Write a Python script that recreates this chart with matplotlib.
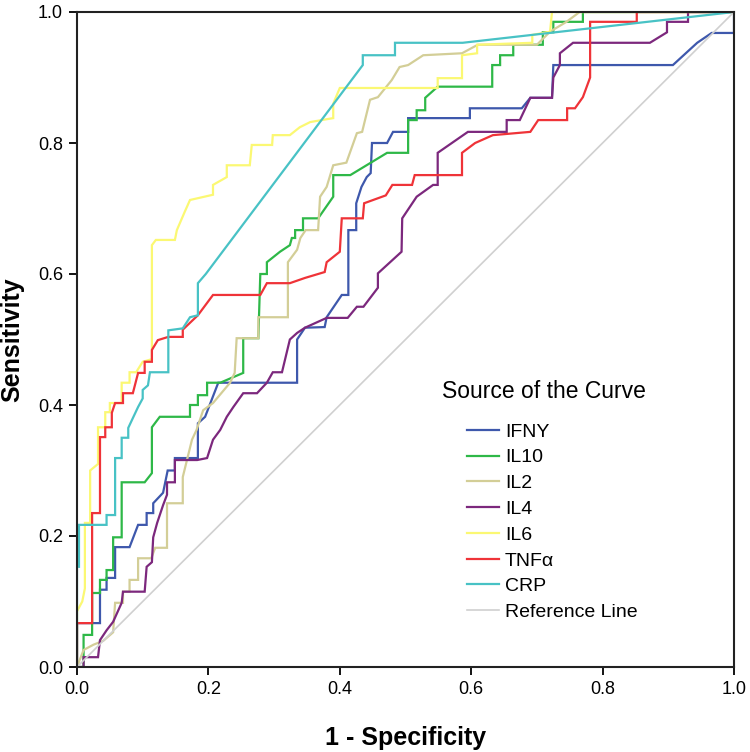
import matplotlib
matplotlib.use("Agg")
import matplotlib.pyplot as plt

plt.rcParams['font.family'] = ['Liberation Sans', 'DejaVu Sans']

# ROC curves: (1 - specificity, sensitivity) vertices
ifny_x = [0, 0, 0.035, 0.035, 0.045, 0.045, 0.058, 0.058, 0.08, 0.093, 0.106, 0.106, 0.116, 0.116,
          0.131, 0.138, 0.149, 0.149, 0.184, 0.184, 0.195, 0.215, 0.335, 0.335, 0.347, 0.377, 0.38,
          0.403, 0.413, 0.413, 0.425, 0.425, 0.433, 0.441, 0.447, 0.449, 0.472, 0.481, 0.504, 0.504,
          0.598, 0.598, 0.677, 0.69, 0.723, 0.725, 0.907, 0.944, 0.966, 1.0, 1.0]
ifny_y = [0, 0.067, 0.067, 0.118, 0.118, 0.136, 0.136, 0.183, 0.183, 0.217, 0.217, 0.235, 0.235, 0.25,
          0.266, 0.30, 0.30, 0.319, 0.319, 0.372, 0.382, 0.434, 0.434, 0.50, 0.518, 0.519, 0.534,
          0.568, 0.568, 0.667, 0.667, 0.708, 0.733, 0.748, 0.754, 0.80, 0.80, 0.817, 0.817, 0.838,
          0.838, 0.853, 0.853, 0.869, 0.869, 0.919, 0.919, 0.953, 0.968, 0.968, 1.0]

il10_x = [0, 0.01, 0.01, 0.023, 0.023, 0.035, 0.035, 0.045, 0.045, 0.055, 0.055, 0.068, 0.068, 0.103,
          0.114, 0.114, 0.126, 0.172, 0.172, 0.184, 0.184, 0.198, 0.198, 0.218, 0.253, 0.253, 0.276,
          0.279, 0.289, 0.289, 0.309, 0.324, 0.327, 0.332, 0.332, 0.344, 0.344, 0.367, 0.39, 0.39,
          0.416, 0.472, 0.504, 0.504, 0.517, 0.517, 0.53, 0.53, 0.549, 0.632, 0.632, 0.644, 0.644,
          0.664, 0.664, 0.709, 0.709, 0.725, 0.725, 0.77, 0.77, 1.0]
il10_y = [0, 0, 0.049, 0.049, 0.113, 0.113, 0.133, 0.133, 0.148, 0.148, 0.198, 0.198, 0.282, 0.282,
          0.296, 0.366, 0.382, 0.382, 0.40, 0.40, 0.415, 0.415, 0.434, 0.434, 0.449, 0.502, 0.502,
          0.60, 0.60, 0.618, 0.634, 0.644, 0.655, 0.655, 0.667, 0.667, 0.685, 0.685, 0.718, 0.751,
          0.751, 0.785, 0.785, 0.835, 0.835, 0.85, 0.85, 0.869, 0.886, 0.886, 0.919, 0.919, 0.934,
          0.934, 0.95, 0.95, 0.969, 0.969, 0.985, 0.985, 1.0, 1.0]

il2_x = [0, 0.01, 0.025, 0.04, 0.055, 0.058, 0.07, 0.07, 0.08, 0.08, 0.093, 0.093, 0.113, 0.119, 0.137,
         0.137, 0.161, 0.161, 0.175, 0.182, 0.192, 0.207, 0.233, 0.24, 0.243, 0.276, 0.276, 0.321,
         0.321, 0.335, 0.34, 0.348, 0.367, 0.37, 0.38, 0.39, 0.41, 0.426, 0.434, 0.446, 0.458, 0.479,
         0.491, 0.504, 0.527, 0.586, 0.61, 0.70, 0.72, 0.745, 0.765, 1.0]
il2_y = [0, 0.026, 0.034, 0.04, 0.053, 0.098, 0.098, 0.115, 0.115, 0.133, 0.133, 0.166, 0.166, 0.182,
         0.182, 0.25, 0.25, 0.29, 0.347, 0.362, 0.392, 0.403, 0.434, 0.449, 0.502, 0.502, 0.534, 0.534,
         0.618, 0.637, 0.655, 0.667, 0.667, 0.718, 0.733, 0.766, 0.77, 0.815, 0.817, 0.866, 0.87,
         0.896, 0.916, 0.919, 0.934, 0.937, 0.95, 0.95, 0.97, 0.985, 1.0, 1.0]

il4_x = [0, 0.01, 0.01, 0.032, 0.035, 0.045, 0.055, 0.068, 0.07, 0.103, 0.106, 0.114, 0.116, 0.122,
         0.131, 0.137, 0.137, 0.149, 0.149, 0.183, 0.198, 0.207, 0.218, 0.228, 0.238, 0.253, 0.274,
         0.289, 0.298, 0.312, 0.324, 0.335, 0.347, 0.38, 0.412, 0.426, 0.436, 0.458, 0.458, 0.494,
         0.495, 0.517, 0.542, 0.549, 0.549, 0.595, 0.654, 0.654, 0.674, 0.69, 0.723, 0.725, 0.735,
         0.735, 0.755, 0.872, 0.898, 0.898, 0.93, 0.93, 1.0]
il4_y = [0, 0, 0.015, 0.015, 0.041, 0.056, 0.069, 0.098, 0.115, 0.115, 0.153, 0.16, 0.198, 0.22,
         0.247, 0.263, 0.282, 0.282, 0.316, 0.316, 0.319, 0.347, 0.362, 0.382, 0.397, 0.418, 0.418,
         0.434, 0.45, 0.45, 0.50, 0.51, 0.518, 0.533, 0.533, 0.55, 0.55, 0.579, 0.601, 0.634,
         0.685, 0.718, 0.736, 0.736, 0.785, 0.817, 0.817, 0.835, 0.835, 0.869, 0.869, 0.90, 0.919,
         0.937, 0.953, 0.953, 0.969, 0.985, 0.985, 1.0, 1.0]

il6_x = [0, 0, 0.008, 0.012, 0.012, 0.02, 0.02, 0.032, 0.032, 0.043, 0.043, 0.05, 0.05, 0.068, 0.068,
         0.08, 0.08, 0.09, 0.10, 0.114, 0.114, 0.12, 0.149, 0.152, 0.164, 0.172, 0.207, 0.207, 0.228,
         0.228, 0.263, 0.266, 0.297, 0.298, 0.324, 0.339, 0.355, 0.39, 0.39, 0.40, 0.549, 0.549,
         0.586, 0.586, 0.609, 0.609, 0.693, 0.693, 0.72, 0.723, 1.0]
il6_y = [0, 0.085, 0.10, 0.12, 0.22, 0.22, 0.30, 0.31, 0.366, 0.366, 0.389, 0.389, 0.403, 0.403, 0.434,
         0.434, 0.45, 0.45, 0.466, 0.47, 0.644, 0.652, 0.652, 0.667, 0.695, 0.713, 0.721, 0.736, 0.748,
         0.766, 0.766, 0.797, 0.797, 0.812, 0.812, 0.824, 0.832, 0.838, 0.86, 0.884, 0.884, 0.899,
         0.899, 0.934, 0.937, 0.95, 0.953, 0.965, 0.97, 1.0, 1.0]

tnf_x = [0, 0, 0.023, 0.023, 0.035, 0.035, 0.043, 0.043, 0.053, 0.053, 0.058, 0.07, 0.07, 0.085, 0.093,
         0.103, 0.103, 0.114, 0.114, 0.123, 0.139, 0.161, 0.161, 0.184, 0.207, 0.279, 0.289, 0.324,
         0.347, 0.377, 0.38, 0.40, 0.403, 0.435, 0.437, 0.47, 0.48, 0.51, 0.514, 0.586, 0.586, 0.606,
         0.633, 0.69, 0.702, 0.746, 0.746, 0.758, 0.77, 0.781, 0.781, 0.852, 0.852, 1.0]
tnf_y = [0, 0.067, 0.067, 0.235, 0.235, 0.351, 0.351, 0.366, 0.366, 0.388, 0.403, 0.403, 0.418, 0.418,
         0.449, 0.449, 0.466, 0.466, 0.484, 0.499, 0.504, 0.504, 0.515, 0.537, 0.568, 0.568, 0.586,
         0.586, 0.594, 0.603, 0.618, 0.634, 0.685, 0.685, 0.708, 0.72, 0.736, 0.736, 0.751, 0.751,
         0.785, 0.80, 0.812, 0.817, 0.835, 0.835, 0.853, 0.853, 0.87, 0.90, 0.985, 0.985, 1.0, 1.0]

crp_x = [0, 0, 0.003, 0.003, 0.045, 0.045, 0.058, 0.058, 0.068, 0.068, 0.078, 0.078, 0.085, 0.093, 0.1,
         0.1, 0.108, 0.111, 0.139, 0.139, 0.161, 0.172, 0.184, 0.184, 0.196, 0.435, 0.435, 0.484,
         0.484, 0.587, 1.0]
crp_y = [0, 0.153, 0.153, 0.217, 0.217, 0.232, 0.232, 0.319, 0.319, 0.35, 0.35, 0.365, 0.38, 0.397,
         0.41, 0.423, 0.43, 0.45, 0.45, 0.514, 0.517, 0.534, 0.537, 0.586, 0.60, 0.919, 0.934, 0.934,
         0.953, 0.953, 1.0]

curve_names = ['IFNY', 'IL10', 'IL2', 'IL4', 'IL6', 'TNFα', 'CRP']
curve_colors = ['#3E58AC', '#2EB848', '#D3CE97', '#7C287D', '#FBF873', '#EF3338', '#48C2C5']
curves = [(ifny_x, ifny_y), (il10_x, il10_y), (il2_x, il2_y), (il4_x, il4_y),
          (il6_x, il6_y), (tnf_x, tnf_y), (crp_x, crp_y)]

fig = plt.figure(figsize=(7.5, 7.52), dpi=100)
ax = fig.add_axes([77 / 750, 85 / 752, 657 / 750, 655 / 752])

handles = []
for (xs, ys), name, col in zip(curves, curve_names, curve_colors):
    h, = ax.plot(xs, ys, color=col, lw=1.6, label=name, solid_joinstyle='miter')
    handles.append(h)
ref, = ax.plot([0, 1], [0, 1], color='#D0D0D0', lw=1.2, label='Reference Line')
handles.append(ref)

ax.set_xlim(0, 1)
ax.set_ylim(0, 1)
ticks = [0.0, 0.2, 0.4, 0.6, 0.8, 1.0]
ax.set_xticks(ticks)
ax.set_yticks(ticks)
ax.set_xticklabels(['%.1f' % t for t in ticks])
ax.set_yticklabels(['%.1f' % t for t in ticks])
ax.tick_params(direction='out', length=6, width=1.3, labelsize=13, colors='black', pad=4)
for s in ax.spines.values():
    s.set_linewidth(1.5)
    s.set_color('#222222')

ax.set_xlabel('1 - Specificity', fontsize=18, fontweight='bold', labelpad=20)
ax.set_ylabel('Sensitivity', fontsize=18, fontweight='bold', labelpad=10)

fig.text(442 / 750, 1 - 392 / 752, 'Source of the Curve', fontsize=16.5, va='center', ha='left')
fig.legend(handles=handles, loc='upper left', bbox_to_anchor=(467 / 750, 1 - 423 / 752),
           frameon=False, fontsize=14, handlelength=1.65, handletextpad=0.3,
           labelspacing=0.42, borderpad=0, borderaxespad=0)

fig.savefig('out.png', dpi=100)
